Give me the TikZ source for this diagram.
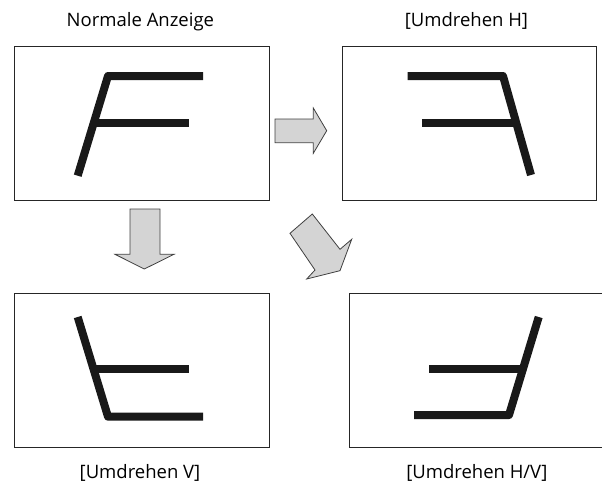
\documentclass[tikz,border=0pt]{standalone}
\usepackage{fontspec}
\setmainfont{Open Sans}
\begin{document}
\begin{tikzpicture}[x=1pt,y=-1pt,
  panel/.style={draw=black!85,line width=1.4pt,inner sep=0pt,anchor=north west},
  glyph/.style={line width=8pt,line join=round,line cap=butt,black!90},
  blockarrow/.style={draw=black!75,fill=black!17,line width=0.8pt,line join=miter},
  caption/.style={font=\fontsize{18.5}{22}\selectfont,inner sep=0pt,anchor=base}]
\useasboundingbox (0,0) rectangle (602,482);
% panels
\node[panel,minimum width=255.5pt,minimum height=154.3pt] (tl) at (13.5,45.7) {};
\node[panel,minimum width=254pt,minimum height=154pt] (tr) at (342,46) {};
\node[panel,minimum width=255.5pt,minimum height=154pt] (bl) at (13.5,292.7) {};
\node[panel,minimum width=258pt,minimum height=154pt] (br) at (348.7,292.7) {};
% captions
\node[caption] (ctl) at (140.4,26) {Normale Anzeige};
\node[caption] (ctr) at (466.4,26) {[Umdrehen H]};
\node[caption] (cbl) at (140,478.7) {[Umdrehen V]};
\node[caption] (cbr) at (476.8,478.7) {[Umdrehen H/V]};
% glyphs
\draw[glyph] (77.7,175.7) -- (108,76) -- (203,76);
\draw[glyph] (93.7,123) -- (189,123);
\draw[glyph] (531,175) -- (503,76) -- (407.7,76);
\draw[glyph] (516.3,123) -- (422,123);
\draw[glyph] (77.7,317) -- (108,416.7) -- (203,416.7);
\draw[glyph] (93.5,369) -- (189,369);
\draw[glyph] (538.7,317) -- (509,415) -- (414,415);
\draw[glyph] (522.9,369) -- (429,369);
% block arrows
\draw[blockarrow] (275,119) -- (313.3,119) -- (313.3,108) -- (326.7,130.7)
  -- (313.3,153.3) -- (313.3,142.7) -- (275,142.7) -- cycle;
\draw[blockarrow] (130,209) -- (160,209) -- (160,254.3) -- (174,254.3)
  -- (144.3,269) -- (115,254.3) -- (130,254.3) -- cycle;
\draw[blockarrow] (312.3,214) -- (340,249.3) -- (351.7,239.3) -- (340,270.7)
  -- (306.7,279) -- (315,270) -- (290,233.3) -- cycle;
\end{tikzpicture}
\end{document}
